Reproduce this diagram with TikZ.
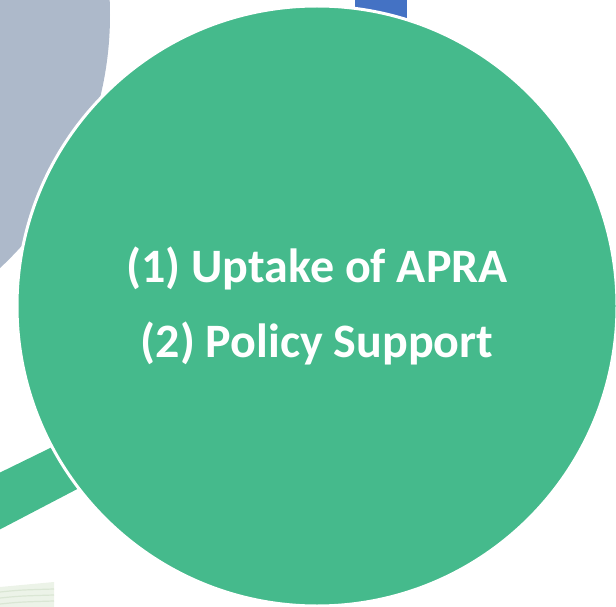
\documentclass[tikz,border=0pt]{standalone}
\usepackage{fontspec}
\setmainfont{Carlito}
\usepackage{tikz}

\definecolor{apragreen}{RGB}{69,186,140}
\definecolor{apragray}{RGB}{173,185,202}
\definecolor{aprablue}{RGB}{68,114,196}
\definecolor{aprapale}{RGB}{236,243,232}
\definecolor{aprastripe}{RGB}{218,230,212}

\tikzset{
  core/.style={circle, fill=apragreen, draw=white, line width=3pt,
    minimum size=600pt, inner sep=0pt, align=center, text=white,
    font=\fontsize{48}{75}\selectfont\bfseries}
}

\begin{document}
\begin{tikzpicture}[x=1pt, y=-1pt]
  \useasboundingbox (0,0) rectangle (616,607);
  \clip (0,0) rectangle (616,607);
  % background pieces
  \fill[apragray] (-236,15) circle (346);
  \fill[aprablue] (355,-5) rectangle (407,40);
  \fill[apragreen] (-5,475) -- (130,409) -- (150,451) -- (-5,532) -- cycle;
  \fill[aprapale] (0,587) -- (54,582) -- (54,610) -- (0,610) -- cycle;
  \foreach \y in {592,598,604}
    \draw[aprastripe, line width=1.2pt] (0,\y) .. controls (20,\y-2) .. (54,\y-3);
  % main circle
  \node[core] (core) at (317,306) {(1) Uptake of APRA\\(2) Policy Support};
\end{tikzpicture}
\end{document}
